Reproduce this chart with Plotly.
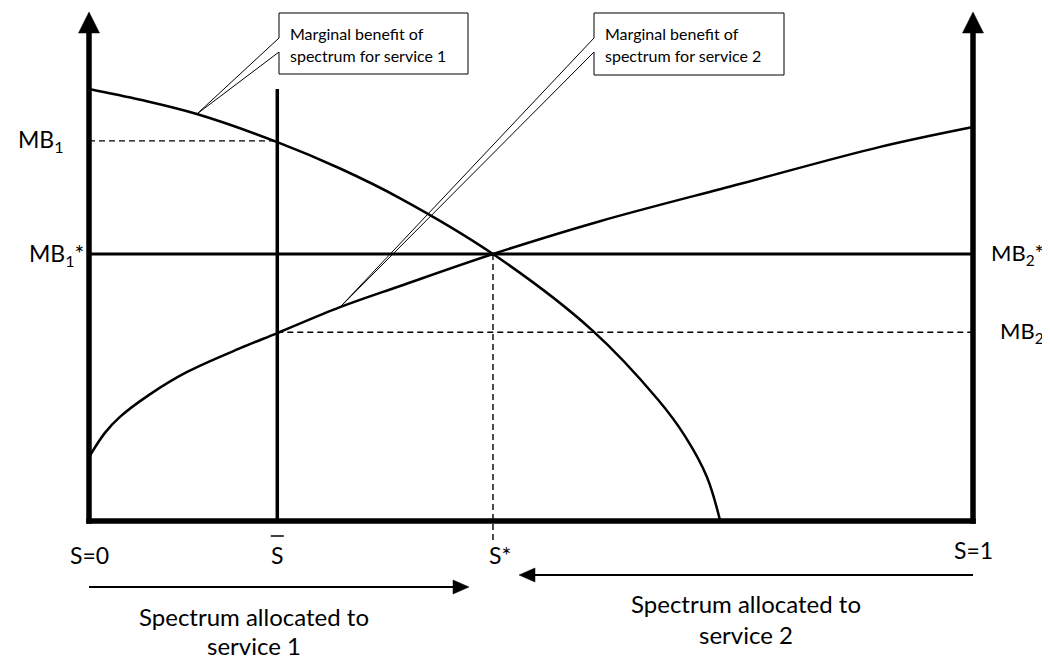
import plotly.graph_objects as go

# ---------------- data ----------------
# share of spectrum S (0..1) and marginal benefit (0 at the S-axis, 1 = MB1 at S=0)
mb1_s = [0.0, 0.058, 0.122, 0.213, 0.284, 0.352, 0.457, 0.569, 0.644, 0.674, 0.699, 0.714]
mb1_v = [1.0, 0.975, 0.942, 0.877, 0.816, 0.747, 0.618, 0.442, 0.280, 0.197, 0.102, 0.0]

mb2_s = [0.0, 0.018, 0.035, 0.068, 0.111, 0.171, 0.213, 0.284, 0.352, 0.457, 0.578, 0.736, 0.895, 1.0]
mb2_v = [0.148, 0.204, 0.241, 0.292, 0.345, 0.400, 0.435, 0.495, 0.544, 0.618, 0.694, 0.780, 0.866, 0.912]

s_bar = 0.213          # current allocation S-bar
s_star = 0.457         # optimal allocation S*
mb_star = 0.618        # MB1* = MB2*
mb1_at_sbar = 0.880    # MB1
mb2_at_sbar = 0.437    # MB2
s_bar_top = 1.0        # top of the S-bar line

x_tick_labels = ["S=0", "S", "S*", "S=1"]
callout_texts = [["Marginal benefit of", "spectrum for service 1"],
                 ["Marginal benefit of", "spectrum for service 2"]]
bottom_texts = [["Spectrum allocated to", "service 1"],
                ["Spectrum allocated to", "service 2"]]

# ---------------- layout helpers (screen pixels -> data units) ----------------
X0_PX, X1_PX, Y0_PX, PX_Y = 89.0, 973.0, 521.0, 432.0
W, H = 1050, 660
OFF = 8  # default page margin in front of the figure


def sx(px):
    return (px - X0_PX) / (X1_PX - X0_PX)


def sy(py):
    return (Y0_PX - py) / PX_Y


def dx(px):
    return px / (X1_PX - X0_PX)


def dy(px):
    return px / PX_Y


FONT = "Lato, 'Open Sans', sans-serif"
BLACK = "#000000"

fig = go.Figure()

# curves
for xs, ys in ((mb1_s, mb1_v), (mb2_s, mb2_v)):
    fig.add_trace(go.Scatter(x=xs, y=ys, mode="lines",
                             line=dict(color=BLACK, width=2.5, shape="spline", smoothing=1.0),
                             hoverinfo="skip"))

shapes = []

# callouts (box + wedge pointing to the curve)
callout_boxes = [(279, 468, 13, 74), (594, 784, 13, 75)]
tips = [(mb1_s[2], mb1_v[2]), (mb2_s[7], mb2_v[7])]
for (bx0, bx1, by0, by1), (tx, ty) in zip(callout_boxes, tips):
    x0, x1 = sx(bx0), sx(bx1)
    y0, y1 = sy(by0), sy(by1)
    ya, yb = sy(52), sy(38)
    path = (f"M {x0},{y0} L {x1},{y0} L {x1},{y1} L {x0},{y1} L {x0},{ya} "
            f"L {tx},{ty} L {x0},{yb} Z")
    shapes.append(dict(type="path", path=path, xref="x", yref="y",
                       fillcolor="white", line=dict(color=BLACK, width=1), layer="below"))

# reference lines
shapes.append(dict(type="line", x0=s_bar, x1=s_bar, y0=0, y1=s_bar_top, xref="x", yref="y",
                   line=dict(color=BLACK, width=3.5)))
shapes.append(dict(type="line", x0=0, x1=1, y0=mb_star, y1=mb_star, xref="x", yref="y",
                   line=dict(color=BLACK, width=3)))
shapes.append(dict(type="line", x0=0, x1=s_bar, y0=mb1_at_sbar, y1=mb1_at_sbar, xref="x", yref="y",
                   line=dict(color=BLACK, width=1.4, dash="6px,4px")))
shapes.append(dict(type="line", x0=s_bar, x1=1, y0=mb2_at_sbar, y1=mb2_at_sbar, xref="x", yref="y",
                   line=dict(color=BLACK, width=1.4, dash="6px,4px")))
shapes.append(dict(type="line", x0=s_star, x1=s_star, y0=mb_star, y1=sy(543), xref="x", yref="y",
                   line=dict(color=BLACK, width=1.4, dash="6px,4px")))

# axes (thick, with arrowheads on the verticals)
AW = 5.5
arrow_base = sy(33)
arrow_tip = sy(12)
shapes.append(dict(type="line", x0=0 - dx(AW / 2), x1=1 + dx(AW / 2), y0=0, y1=0, xref="x", yref="y",
                   line=dict(color=BLACK, width=AW)))
for xa in (0, 1):
    shapes.append(dict(type="line", x0=xa, x1=xa, y0=0 - dy(AW / 2), y1=arrow_base, xref="x", yref="y",
                       line=dict(color=BLACK, width=AW)))
    shapes.append(dict(type="path", xref="x", yref="y",
                       path=f"M {xa - dx(10.5)},{arrow_base} L {xa + dx(10.5)},{arrow_base} L {xa},{arrow_tip} Z",
                       fillcolor=BLACK, line=dict(color=BLACK, width=0.5)))

# bar over the S-bar label
shapes.append(dict(type="line", x0=s_bar - dx(6.5), x1=s_bar + dx(6.5), y0=sy(536), y1=sy(536),
                   xref="x", yref="y", line=dict(color=BLACK, width=1.5)))

# bottom direction arrows
ya1 = sy(587)
shapes.append(dict(type="line", x0=0, x1=sx(454), y0=ya1, y1=ya1, xref="x", yref="y",
                   line=dict(color=BLACK, width=2.2)))
shapes.append(dict(type="path", xref="x", yref="y",
                   path=f"M {sx(453)},{ya1 + dy(7)} L {sx(469)},{ya1} L {sx(453)},{ya1 - dy(7)} Z",
                   fillcolor=BLACK, line=dict(color=BLACK, width=0.5)))
ya2 = sy(575)
shapes.append(dict(type="line", x0=sx(533), x1=1, y0=ya2, y1=ya2, xref="x", yref="y",
                   line=dict(color=BLACK, width=2.2)))
shapes.append(dict(type="path", xref="x", yref="y",
                   path=f"M {sx(535)},{ya2 + dy(7)} L {sx(519)},{ya2} L {sx(535)},{ya2 - dy(7)} Z",
                   fillcolor=BLACK, line=dict(color=BLACK, width=0.5)))

annotations = []


def label(text, x, y, xanchor="center", size=23, xshift=0):
    annotations.append(dict(text=text, x=x, y=y, xref="x", yref="y", showarrow=False,
                            xanchor=xanchor, yanchor="middle", xshift=xshift,
                            font=dict(family=FONT, size=size, color=BLACK)))


# y-side labels
label("MB<sub>1</sub>", sx(66), mb1_at_sbar, xanchor="right")
label("MB<sub>1</sub>*", sx(86), mb_star, xanchor="right")
label("MB<sub>2</sub>*", sx(989), mb_star, xanchor="left", size=22)
label("MB<sub>2</sub>", sx(998), mb2_at_sbar, xanchor="left", size=22)

# x-side labels
label(x_tick_labels[0], 0, sy(555))
label(x_tick_labels[1], s_bar, sy(555))
label(x_tick_labels[2], s_star, sy(555), xanchor="left", xshift=-6)
label(x_tick_labels[3], 1, sy(550))

# callout texts
for (bx0, bx1, by0, by1), lines in zip(callout_boxes, callout_texts):
    label(lines[0], sx(bx0 + 9), sy(33), xanchor="left", size=16)
    label(lines[1], sx(bx0 + 9), sy(55), xanchor="left", size=16)

# bottom texts
label(bottom_texts[0][0], sx(254), sy(616), size=24)
label(bottom_texts[0][1], sx(254), sy(645), size=24)
label(bottom_texts[1][0], sx(746), sy(603), size=24)
label(bottom_texts[1][1], sx(746), sy(634), size=24)

fig.update_layout(
    width=W, height=H,
    margin=dict(l=0, r=0, t=0, b=0),
    paper_bgcolor="white", plot_bgcolor="white",
    showlegend=False,
    xaxis=dict(range=[sx(OFF), sx(OFF + W)], visible=False, fixedrange=True),
    yaxis=dict(range=[sy(OFF + H), sy(OFF)], visible=False, fixedrange=True),
    shapes=shapes,
    annotations=annotations,
)

fig.write_html("out.html")
